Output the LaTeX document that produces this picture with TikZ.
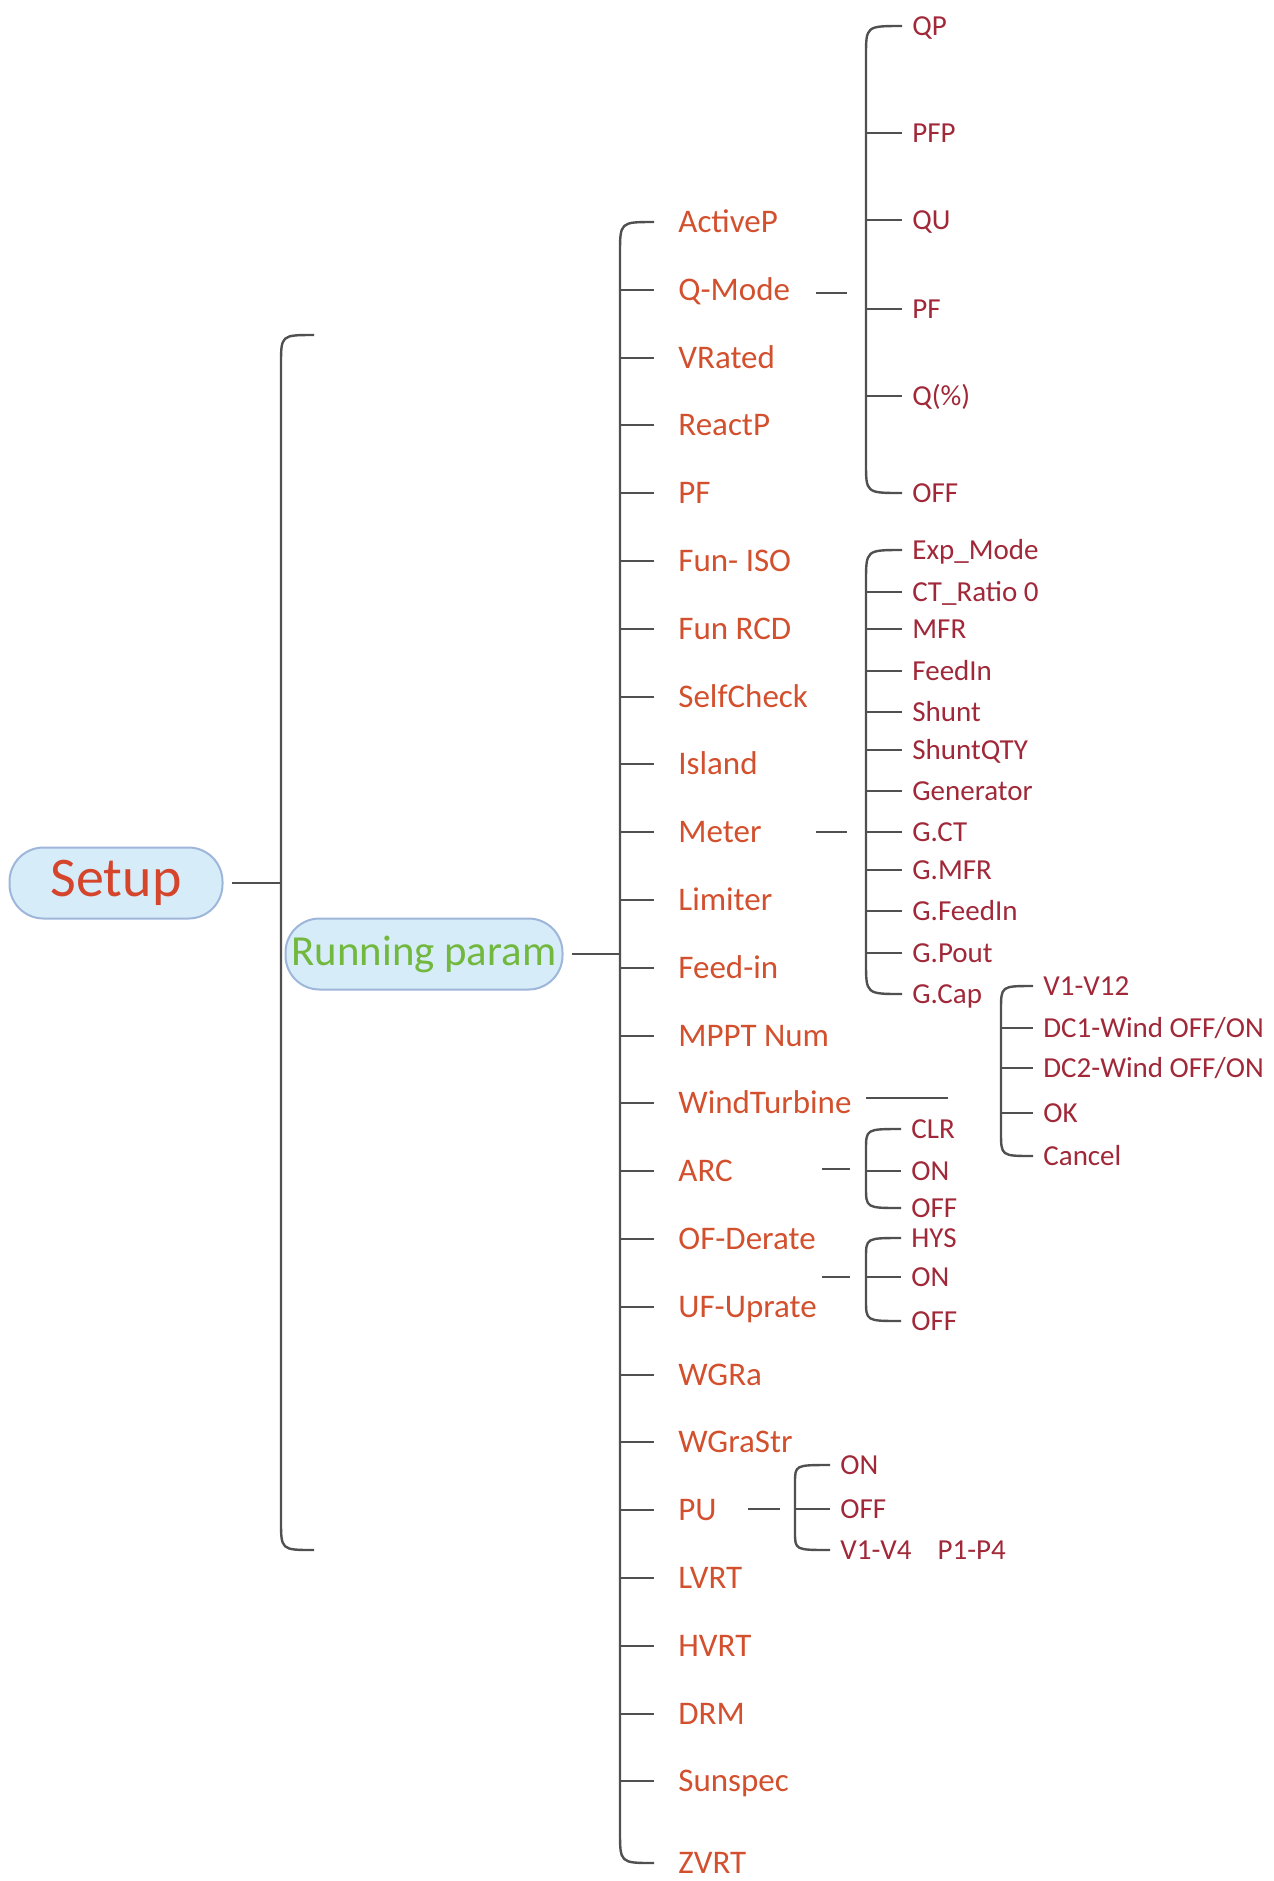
\documentclass[tikz,border=0pt]{standalone}
\usepackage{fontspec}
\setmainfont{Carlito}
\definecolor{itemred}{HTML}{D2502E}
\definecolor{subred}{HTML}{A02838}
\definecolor{setupred}{HTML}{D4452C}
\definecolor{rungreen}{HTML}{72B83E}
\definecolor{pillfill}{HTML}{D6ECF9}
\definecolor{pillline}{HTML}{9EB6DA}
\definecolor{linegray}{HTML}{505050}
\tikzset{
  conn/.style={draw=linegray, line width=1.2pt},
  item/.style={anchor=west, inner xsep=12pt, inner ysep=0pt, text height=10.9pt, text depth=0pt, text=itemred, font=\fontsize{16.5}{18}\selectfont},
  sub/.style={anchor=west, inner xsep=5pt, inner ysep=0pt, text height=9.6pt, text depth=0pt, text=subred, font=\fontsize{14.5}{16}\selectfont},
  pill/.style={draw=pillline, fill=pillfill, line width=1pt, rounded corners=17pt, minimum height=35.5pt, inner sep=0pt}
}
\begin{document}
\begin{tikzpicture}[x=0.5pt, y=-0.5pt]
  \useasboundingbox (0,0) rectangle (1274,1881);
  % root and first level
  \node[pill, minimum width=106.5pt, text=setupred, font=\fontsize{28}{30}\selectfont] (setup) at (116,883) {Setup};
  \node[pill, minimum width=138.5pt, text=rungreen, font=\fontsize{21.4}{23}\selectfont] (run) at (424,954) {Running param};
  \coordinate (setupbar) at (281,883);
  \coordinate (bartop) at (314,335);
  \coordinate (barbot) at (314,1550);
  \draw[conn, shorten <=4pt] (setup.east) -- (setupbar);
  \draw[conn] (bartop) .. controls (281,335) .. (281,365) -- (281,1520) .. controls (281,1550) .. (barbot);
  % running param items
  \node[item] (act) at (654,222) {ActiveP};
  \node[item] (qmode) at (654,290) {Q-Mode};
  \node[item] (vrated) at (654,358) {VRated};
  \node[item] (reactp) at (654,425) {ReactP};
  \node[item] (pf) at (654,493) {PF};
  \node[item] (funiso) at (654,561) {Fun- ISO};
  \node[item] (funrcd) at (654,629) {Fun RCD};
  \node[item] (selfchk) at (654,697) {SelfCheck};
  \node[item] (island) at (654,764) {Island};
  \node[item] (meter) at (654,832) {Meter};
  \node[item] (limiter) at (654,900) {Limiter};
  \node[item] (feedin) at (654,968) {Feed-in};
  \node[item] (mppt) at (654,1036) {MPPT Num};
  \node[item] (wind) at (654,1103) {WindTurbine};
  \node[item] (arc) at (654,1171) {ARC};
  \node[item] (ofder) at (654,1239) {OF-Derate};
  \node[item] (ufup) at (654,1307) {UF-Uprate};
  \node[item] (wgra) at (654,1375) {WGRa};
  \node[item] (wgrastr) at (654,1442) {WGraStr};
  \node[item] (pu) at (654,1510) {PU};
  \node[item] (lvrt) at (654,1578) {LVRT};
  \node[item] (hvrt) at (654,1646) {HVRT};
  \node[item] (drm) at (654,1714) {DRM};
  \node[item] (sunspec) at (654,1781) {Sunspec};
  \node[item] (zvrt) at (654,1863) {ZVRT};
  \coordinate (mainbar) at (620,954);
  \draw[conn, shorten <=4pt] (run.east) -- (mainbar);
  \draw[conn] (act.west) .. controls (620,222) .. (620,254) -- (620,1831) .. controls (620,1863) .. (zvrt.west);
  \foreach \n in {qmode,vrated,reactp,pf,funiso,funrcd,selfchk,island,meter,limiter,feedin,mppt,wind,arc,ofder,ufup,wgra,wgrastr,pu,lvrt,hvrt,drm,sunspec}
    \draw[conn] (\n.west -| mainbar) -- (\n.west);
  % Q-Mode
  \node[sub] (qp) at (902,26) {QP};
  \node[sub] (qpfp) at (902,133) {PFP};
  \node[sub] (qqu) at (902,220) {QU};
  \node[sub] (qpf) at (902,309) {PF};
  \node[sub] (qpct) at (902,396) {Q(\%)};
  \node[sub] (qoff) at (902,493) {OFF};
  \coordinate (qa) at (816,293);
  \coordinate (qb) at (847,293);
  \coordinate (qbar) at (866,0);
  \draw[conn] (qa) -- (qb);
  \draw[conn] (qp.west) .. controls (866,26) .. (866,56) -- (866,463) .. controls (866,493) .. (qoff.west);
  \foreach \n in {qpfp,qqu,qpf,qpct}
    \draw[conn] (\n.west -| qbar) -- (\n.west);
  % Meter
  \node[sub] (exp) at (902,550) {Exp\_Mode};
  \node[sub] (ctr) at (902,592) {CT\_Ratio 0};
  \node[sub] (mfr) at (902,629) {MFR};
  \node[sub] (mfeed) at (902,671) {FeedIn};
  \node[sub] (shunt) at (902,712) {Shunt};
  \node[sub] (shuntq) at (902,750) {ShuntQTY};
  \node[sub] (gen) at (902,791) {Generator};
  \node[sub] (gct) at (902,832) {G.CT};
  \node[sub] (gmfr) at (902,870) {G.MFR};
  \node[sub] (gfeed) at (902,911) {G.FeedIn};
  \node[sub] (gpout) at (902,953) {G.Pout};
  \node[sub] (gcap) at (902,994) {G.Cap};
  \coordinate (ma) at (816,832);
  \coordinate (mb) at (847,832);
  \draw[conn] (ma) -- (mb);
  \draw[conn] (exp.west) .. controls (866,550) .. (866,582) -- (866,962) .. controls (866,994) .. (gcap.west);
  \foreach \n in {ctr,mfr,mfeed,shunt,shuntq,gen,gct,gmfr,gfeed,gpout}
    \draw[conn] (\n.west -| qbar) -- (\n.west);
  % WindTurbine
  \node[sub] (v12) at (1033,986) {V1-V12};
  \node[sub] (dc1) at (1033,1028) {DC1-Wind OFF/ON};
  \node[sub] (dc2) at (1033,1068) {DC2-Wind OFF/ON};
  \node[sub] (wok) at (1033,1113) {OK};
  \node[sub] (wcancel) at (1033,1156) {Cancel};
  \coordinate (wa) at (866,1098);
  \coordinate (wb) at (948,1098);
  \coordinate (wbar) at (1001,0);
  \draw[conn] (wa) -- (wb);
  \draw[conn] (v12.west) .. controls (1001,986) .. (1001,1010) -- (1001,1132) .. controls (1001,1156) .. (wcancel.west);
  \foreach \n in {dc1,dc2,wok}
    \draw[conn] (\n.west -| wbar) -- (\n.west);
  % ARC
  \node[sub] (aclr) at (901,1129) {CLR};
  \node[sub] (aon) at (901,1171) {ON};
  \node[sub] (aoff) at (901,1208) {OFF};
  \coordinate (aa) at (822,1169);
  \coordinate (ab) at (850,1169);
  \draw[conn] (aa) -- (ab);
  \draw[conn] (aclr.west) .. controls (866,1129) .. (866,1150) -- (866,1187) .. controls (866,1208) .. (aoff.west);
  \draw[conn] (aon.west -| qbar) -- (aon.west);
  % OF-Derate / UF-Uprate
  \node[sub] (fhys) at (901,1238) {HYS};
  \node[sub] (fon) at (901,1277) {ON};
  \node[sub] (foff) at (901,1321) {OFF};
  \coordinate (fa) at (822,1277);
  \coordinate (fb) at (850,1277);
  \draw[conn] (fa) -- (fb);
  \draw[conn] (fhys.west) .. controls (866,1238) .. (866,1258) -- (866,1300) .. controls (866,1321) .. (foff.west);
  \draw[conn] (fon.west -| qbar) -- (fon.west);
  % PU
  \node[sub] (pon) at (830,1465) {ON};
  \node[sub] (poff) at (830,1509) {OFF};
  \node[sub] (pv) at (830,1550) {V1-V4\hspace{0.9em}P1-P4};
  \coordinate (pa) at (748,1509);
  \coordinate (pb) at (780,1509);
  \coordinate (pbar) at (795,0);
  \draw[conn] (pa) -- (pb);
  \draw[conn] (pon.west) .. controls (795,1465) .. (795,1483) -- (795,1532) .. controls (795,1550) .. (pv.west);
  \draw[conn] (poff.west -| pbar) -- (poff.west);
\end{tikzpicture}
\end{document}
